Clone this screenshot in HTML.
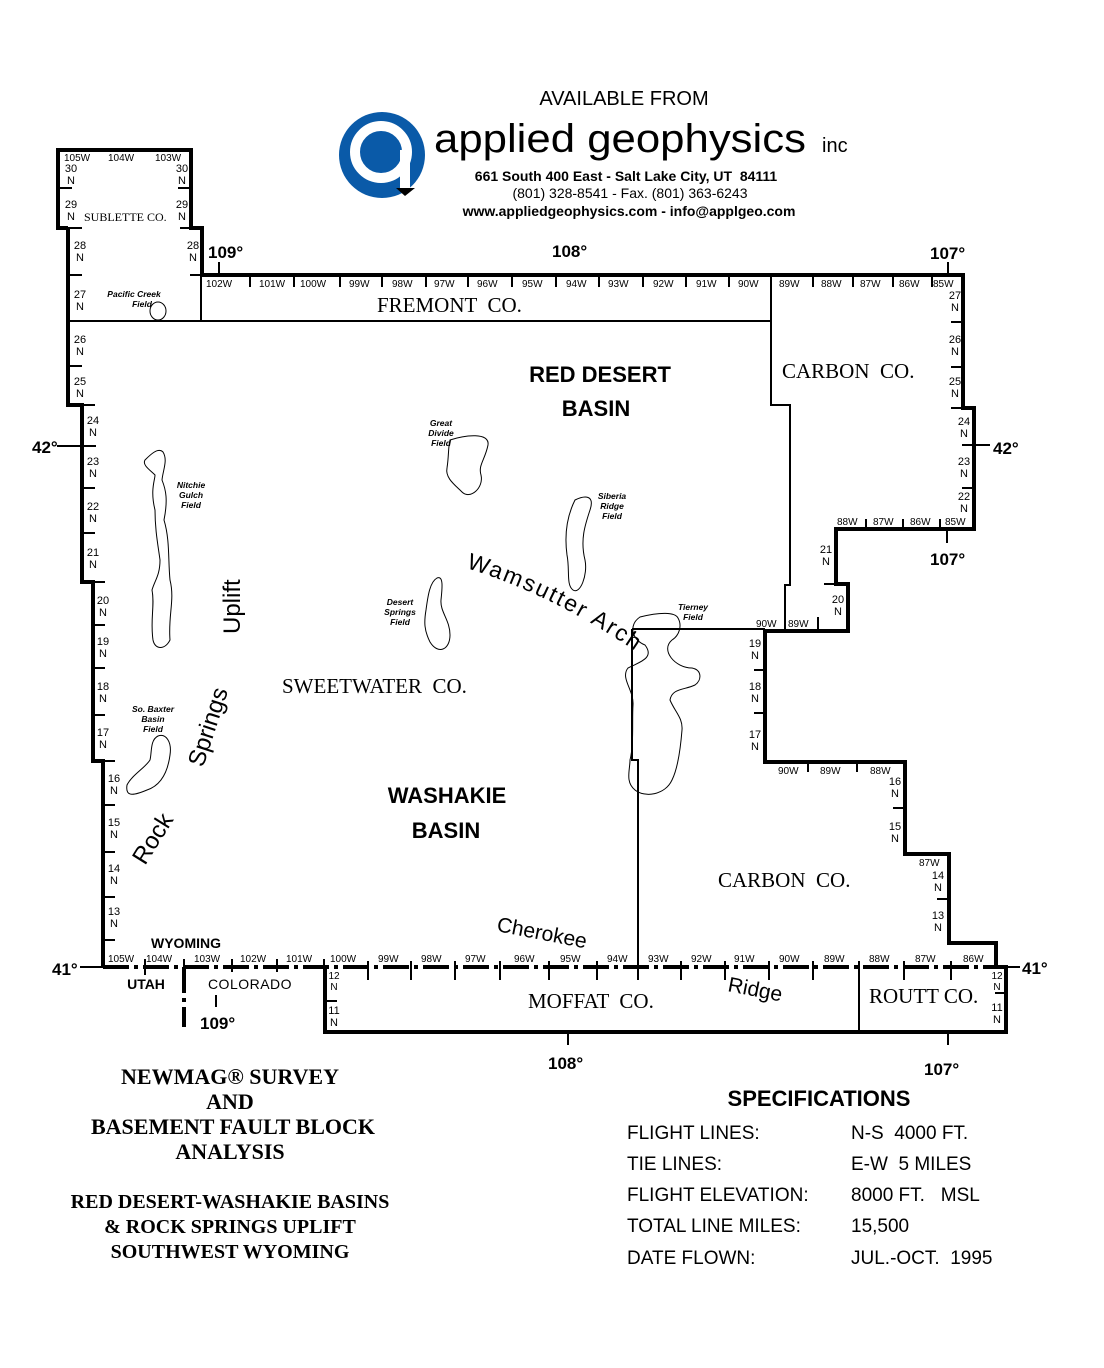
<!DOCTYPE html>
<html><head><meta charset="utf-8"><style>
html,body{margin:0;padding:0;background:#fff;}
svg{display:block;}
text{white-space:pre;}
.t{font-family:"Liberation Sans",sans-serif;font-size:10px;fill:#000;}
.n{font-family:"Liberation Sans",sans-serif;font-size:11px;fill:#000;text-anchor:middle;}
.s{font-family:"Liberation Serif",serif;font-size:21px;fill:#000;}
.b{font-family:"Liberation Sans",sans-serif;font-weight:bold;fill:#000;}
.f{font-family:"Liberation Sans",sans-serif;font-style:italic;font-weight:bold;font-size:8.5px;text-anchor:middle;fill:#000;}
.sp{font-family:"Liberation Sans",sans-serif;font-size:19px;fill:#000;}
.tt{font-family:"Liberation Serif",serif;font-weight:bold;fill:#000;text-anchor:middle;}
</style></head><body>
<svg width="1104" height="1368" viewBox="0 0 1104 1368" xmlns="http://www.w3.org/2000/svg">
<text x="624" y="105" class="sp" style="font-size:20px" text-anchor="middle">AVAILABLE FROM</text>
<circle cx="382" cy="155" r="43" fill="#0a5aa8"/>
<circle cx="381" cy="152" r="26" fill="none" stroke="#fff" stroke-width="10"/>
<rect x="400" y="150" width="10" height="40" fill="#fff"/>
<polygon points="396,188 415,188 405,196" fill="#000"/>
<text x="434" y="152" textLength="372" lengthAdjust="spacingAndGlyphs" style="font-family:'Liberation Sans',sans-serif;font-size:40px" fill="#000">applied geophysics</text>
<text x="822" y="152" style="font-family:'Liberation Sans',sans-serif;font-size:20px" fill="#000">inc</text>
<text x="626" y="181" class="b" style="font-size:14px" text-anchor="middle">661 South 400 East - Salt Lake City, UT  84111</text>
<text x="630" y="198" class="sp" style="font-size:14px" text-anchor="middle">(801) 328-8541 - Fax. (801) 363-6243</text>
<text x="629" y="216" class="b" style="font-size:14px" text-anchor="middle">www.appliedgeophysics.com - info@applgeo.com</text>

<polyline fill="none" stroke="#000" stroke-width="4" points="68,228 58,228 58,150 191,150 191,228 202,228 202,275 963,275 963,408 974,408 974,529 836,529 836,584 848,584 848,631 765,631 765,762 905,762 905,854 949,854 949,943 996,943 996,966"/>
<polyline fill="none" stroke="#000" stroke-width="4" points="68,228 68,405 82,405 82,582 93,582 93,761 103,761 103,968"/>
<polyline fill="none" stroke="#000" stroke-width="4" points="1006,966 1006,1032 325,1032 325,966"/>
<line x1="103" y1="967" x2="1008" y2="967" stroke="#000" stroke-width="4" stroke-dasharray="26,5,4,5"/>
<line x1="184" y1="967" x2="184" y2="1027" stroke="#000" stroke-width="4" stroke-dasharray="26,5,4,5"/>

<g stroke="#000" stroke-width="2" fill="none">
<line x1="68" y1="321" x2="771" y2="321"/>
<line x1="201" y1="275" x2="201" y2="321"/>
<polyline points="771,275 771,405 790,405 790,585 785,585 785,631"/>
<line x1="632" y1="629" x2="765" y2="629"/>
<polyline points="632,629 632,760 638,760 638,967"/>
<line x1="859" y1="967" x2="859" y2="1032"/>
</g>

<g stroke="#000" stroke-width="2">
<line x1="58" y1="188" x2="72" y2="188"/><line x1="178" y1="188" x2="191" y2="188"/>
<line x1="68" y1="228" x2="82" y2="228"/><line x1="180" y1="228" x2="191" y2="228"/>
<line x1="68" y1="275" x2="82" y2="275"/><line x1="190" y1="275" x2="201" y2="275"/>
<line x1="68" y1="366" x2="82" y2="366"/>
<line x1="82" y1="405" x2="95" y2="405"/>
<line x1="57" y1="446" x2="96" y2="446"/>
<line x1="82" y1="488" x2="95" y2="488"/><line x1="82" y1="533" x2="95" y2="533"/>
<line x1="93" y1="582" x2="105" y2="582"/>
<line x1="93" y1="625" x2="105" y2="625"/><line x1="93" y1="668" x2="105" y2="668"/><line x1="93" y1="715" x2="105" y2="715"/>
<line x1="103" y1="761" x2="115" y2="761"/>
<line x1="103" y1="805" x2="115" y2="805"/><line x1="103" y1="852" x2="115" y2="852"/><line x1="103" y1="897" x2="115" y2="897"/><line x1="103" y1="940" x2="115" y2="940"/>
<line x1="80" y1="967" x2="103" y2="967"/>
<line x1="219" y1="262" x2="219" y2="275"/>
<line x1="250" y1="275" x2="250" y2="287"/><line x1="294" y1="275" x2="294" y2="287"/><line x1="340" y1="275" x2="340" y2="287"/><line x1="382" y1="275" x2="382" y2="287"/><line x1="426" y1="275" x2="426" y2="287"/><line x1="468" y1="275" x2="468" y2="287"/><line x1="512" y1="275" x2="512" y2="287"/><line x1="556" y1="275" x2="556" y2="287"/><line x1="599" y1="275" x2="599" y2="287"/><line x1="643" y1="275" x2="643" y2="287"/><line x1="686" y1="275" x2="686" y2="287"/><line x1="729" y1="275" x2="729" y2="287"/>
<line x1="813" y1="275" x2="813" y2="287"/><line x1="853" y1="275" x2="853" y2="287"/><line x1="893" y1="275" x2="893" y2="287"/><line x1="932" y1="275" x2="932" y2="287"/>
<line x1="948" y1="262" x2="948" y2="275"/>
<line x1="951" y1="322" x2="963" y2="322"/><line x1="951" y1="367" x2="963" y2="367"/><line x1="951" y1="408" x2="963" y2="408"/>
<line x1="962" y1="445" x2="990" y2="445"/><line x1="962" y1="488" x2="974" y2="488"/>
<line x1="866" y1="519" x2="866" y2="529"/><line x1="903" y1="519" x2="903" y2="529"/><line x1="940" y1="519" x2="940" y2="529"/>
<line x1="947" y1="529" x2="947" y2="543"/>
<line x1="824" y1="584" x2="836" y2="584"/>
<line x1="818" y1="617" x2="818" y2="631"/><line x1="785" y1="617" x2="785" y2="631"/>
<line x1="754" y1="670" x2="765" y2="670"/><line x1="754" y1="713" x2="765" y2="713"/>
<line x1="808" y1="762" x2="808" y2="772"/><line x1="857" y1="762" x2="857" y2="772"/>
<line x1="893" y1="808" x2="905" y2="808"/>
<line x1="937" y1="899" x2="949" y2="899"/>
<line x1="995" y1="993" x2="1006" y2="993"/>
<line x1="1006" y1="967" x2="1020" y2="967"/>
<line x1="325" y1="1001" x2="337" y2="1001"/>
<line x1="145" y1="959" x2="145" y2="975"/><line x1="184" y1="959" x2="184" y2="975"/><line x1="232" y1="959" x2="232" y2="972"/><line x1="277" y1="959" x2="277" y2="972"/><line x1="324" y1="959" x2="324" y2="975"/>
<line x1="368" y1="961" x2="368" y2="980"/><line x1="411" y1="961" x2="411" y2="980"/><line x1="455" y1="961" x2="455" y2="980"/><line x1="500" y1="961" x2="500" y2="980"/><line x1="549" y1="961" x2="549" y2="980"/><line x1="597" y1="961" x2="597" y2="980"/><line x1="638" y1="961" x2="638" y2="980"/><line x1="681" y1="961" x2="681" y2="980"/><line x1="725" y1="961" x2="725" y2="980"/><line x1="769" y1="961" x2="769" y2="980"/><line x1="813" y1="961" x2="813" y2="980"/><line x1="859" y1="961" x2="859" y2="980"/><line x1="904" y1="961" x2="904" y2="980"/><line x1="951" y1="961" x2="951" y2="980"/>
<line x1="216" y1="995" x2="216" y2="1007"/>
<line x1="568" y1="1033" x2="568" y2="1045"/><line x1="948" y1="1033" x2="948" y2="1045"/>
</g>

<g class="b" style="font-size:17px">
<text x="208" y="258">109°</text><text x="552" y="257">108°</text><text x="930" y="259">107°</text>
<text x="32" y="453">42°</text><text x="993" y="454">42°</text>
<text x="930" y="565">107°</text>
<text x="52" y="975">41°</text><text x="1022" y="974">41°</text>
<text x="200" y="1029">109°</text><text x="548" y="1069">108°</text><text x="924" y="1075">107°</text>
</g>

<g class="t">
<text x="64" y="161">105W</text><text x="108" y="161">104W</text><text x="155" y="161">103W</text>
<text x="206" y="287">102W</text><text x="259" y="287">101W</text><text x="300" y="287">100W</text><text x="349" y="287">99W</text><text x="392" y="287">98W</text><text x="434" y="287">97W</text><text x="477" y="287">96W</text><text x="522" y="287">95W</text><text x="566" y="287">94W</text><text x="608" y="287">93W</text><text x="653" y="287">92W</text><text x="696" y="287">91W</text><text x="738" y="287">90W</text>
<text x="779" y="287">89W</text><text x="821" y="287">88W</text><text x="860" y="287">87W</text><text x="899" y="287">86W</text><text x="933" y="287">85W</text>
<text x="837" y="525">88W</text><text x="873" y="525">87W</text><text x="910" y="525">86W</text><text x="945" y="525">85W</text>
<text x="756" y="627">90W</text><text x="788" y="627">89W</text>
<text x="778" y="774">90W</text><text x="820" y="774">89W</text><text x="870" y="774">88W</text>
<text x="919" y="866">87W</text>
<text x="108" y="962">105W</text><text x="146" y="962">104W</text><text x="194" y="962">103W</text><text x="240" y="962">102W</text><text x="286" y="962">101W</text>
<text x="330" y="962">100W</text><text x="378" y="962">99W</text><text x="421" y="962">98W</text><text x="465" y="962">97W</text><text x="514" y="962">96W</text><text x="560" y="962">95W</text><text x="607" y="962">94W</text><text x="648" y="962">93W</text><text x="691" y="962">92W</text><text x="734" y="962">91W</text><text x="779" y="962">90W</text><text x="824" y="962">89W</text><text x="869" y="962">88W</text><text x="915" y="962">87W</text><text x="963" y="962">86W</text>
</g>

<g class="n">
<text x="71" y="172">30</text><text x="71" y="184">N</text><text x="182" y="172">30</text><text x="182" y="184">N</text>
<text x="71" y="208">29</text><text x="71" y="220">N</text><text x="182" y="208">29</text><text x="182" y="220">N</text>
<text x="80" y="249">28</text><text x="80" y="261">N</text><text x="193" y="249">28</text><text x="193" y="261">N</text>
<text x="80" y="298">27</text><text x="80" y="310">N</text>
<text x="80" y="343">26</text><text x="80" y="355">N</text>
<text x="80" y="385">25</text><text x="80" y="397">N</text>
<text x="93" y="424">24</text><text x="93" y="436">N</text>
<text x="93" y="465">23</text><text x="93" y="477">N</text>
<text x="93" y="510">22</text><text x="93" y="522">N</text>
<text x="93" y="556">21</text><text x="93" y="568">N</text>
<text x="103" y="604">20</text><text x="103" y="616">N</text>
<text x="103" y="645">19</text><text x="103" y="657">N</text>
<text x="103" y="690">18</text><text x="103" y="702">N</text>
<text x="103" y="736">17</text><text x="103" y="748">N</text>
<text x="114" y="782">16</text><text x="114" y="794">N</text>
<text x="114" y="826">15</text><text x="114" y="838">N</text>
<text x="114" y="872">14</text><text x="114" y="884">N</text>
<text x="114" y="915">13</text><text x="114" y="927">N</text>
<text x="955" y="299">27</text><text x="955" y="311">N</text>
<text x="955" y="343">26</text><text x="955" y="355">N</text>
<text x="955" y="385">25</text><text x="955" y="397">N</text>
<text x="964" y="425">24</text><text x="964" y="437">N</text>
<text x="964" y="465">23</text><text x="964" y="477">N</text>
<text x="964" y="500">22</text><text x="964" y="512">N</text>
<text x="826" y="553">21</text><text x="826" y="565">N</text>
<text x="838" y="603">20</text><text x="838" y="615">N</text>
<text x="755" y="647">19</text><text x="755" y="659">N</text>
<text x="755" y="690">18</text><text x="755" y="702">N</text>
<text x="755" y="738">17</text><text x="755" y="750">N</text>
<text x="895" y="785">16</text><text x="895" y="797">N</text>
<text x="895" y="830">15</text><text x="895" y="842">N</text>
<text x="938" y="879">14</text><text x="938" y="891">N</text>
<text x="938" y="919">13</text><text x="938" y="931">N</text>
<text x="997" y="979" style="font-size:10px">12</text><text x="997" y="990" style="font-size:10px">N</text>
<text x="997" y="1011">11</text><text x="997" y="1023">N</text>
<text x="334" y="979" style="font-size:10px">12</text><text x="334" y="990" style="font-size:10px">N</text>
<text x="334" y="1014">11</text><text x="334" y="1026">N</text>
</g>

<text x="84" y="221" style="font-family:'Liberation Serif',serif;font-size:12px">SUBLETTE CO.</text>
<text x="377" y="312" class="s">FREMONT  CO.</text>
<text x="782" y="378" class="s">CARBON  CO.</text>
<text x="282" y="693" class="s">SWEETWATER  CO.</text>
<text x="718" y="887" class="s">CARBON  CO.</text>
<text x="528" y="1008" class="s">MOFFAT  CO.</text>
<text x="869" y="1003" class="s">ROUTT CO.</text>
<text x="186" y="948" class="b" style="font-size:14px" text-anchor="middle">WYOMING</text>
<text x="146" y="989" class="b" style="font-size:14px" text-anchor="middle">UTAH</text>
<text x="250" y="989" style="font-family:'Liberation Sans',sans-serif;font-size:14px;letter-spacing:0.5px" text-anchor="middle">COLORADO</text>

<text x="600" y="382" class="b" style="font-size:22px" text-anchor="middle">RED DESERT</text>
<text x="596" y="416" class="b" style="font-size:22px" text-anchor="middle">BASIN</text>
<text x="447" y="803" class="b" style="font-size:22px" text-anchor="middle">WASHAKIE</text>
<text x="446" y="838" class="b" style="font-size:22px" text-anchor="middle">BASIN</text>

<defs><path id="wa" d="M466,568 Q565,598 665,672"/></defs>
<text style="font-family:'Liberation Sans',sans-serif;font-size:23px;letter-spacing:2px"><textPath href="#wa">Wamsutter Arch</textPath></text>
<text transform="translate(496,931) rotate(11)" style="font-family:'Liberation Sans',sans-serif;font-size:21px">Cherokee</text>
<text transform="translate(727,991) rotate(11)" style="font-family:'Liberation Sans',sans-serif;font-size:21px">Ridge</text>
<text transform="translate(145,866) rotate(-58)" style="font-family:'Liberation Sans',sans-serif;font-size:24px">Rock</text>
<text transform="translate(203,768) rotate(-72)" style="font-family:'Liberation Sans',sans-serif;font-size:24px">Springs</text>
<text transform="translate(240,634) rotate(-90)" style="font-family:'Liberation Sans',sans-serif;font-size:24px">Uplift</text>

<g fill="none" stroke="#000" stroke-width="1">
<ellipse cx="158" cy="311" rx="8" ry="9"/>
<path d="M450,440 C465,435 490,432 488,445 C485,460 478,465 481,475 C484,488 470,500 462,492 C455,485 445,478 447,468 C449,455 448,448 450,440Z"/>
<path d="M575,500 C585,495 595,495 590,510 C585,525 580,540 585,560 C588,575 580,595 573,590 C566,585 570,570 567,555 C565,540 565,520 575,500Z"/>
<path d="M437,578 C444,575 442,590 441,600 C440,612 450,620 450,635 C450,650 438,655 430,642 C424,630 424,622 426,610 C428,595 430,582 437,578Z"/>
<path d="M145,460 C150,455 158,447 163,452 C168,460 163,470 162,480 C166,490 168,500 164,520 C170,540 168,560 170,580 C175,600 168,615 170,640 C165,650 155,650 153,640 C150,620 155,605 152,590 C155,580 160,575 160,560 C158,545 155,530 155,510 C150,490 155,480 155,475 C150,470 142,465 145,460Z"/>
<path d="M158,736 C166,733 172,742 170,755 C168,770 162,785 147,790 C135,795 125,798 127,785 C132,775 145,768 150,760 C152,752 150,740 158,736Z"/>
<path d="M640,617 C660,612 675,612 678,618 C682,625 680,635 672,640 C660,650 675,668 692,668 C702,670 702,680 695,685 C685,690 672,688 670,700 C675,712 683,718 682,730 C680,755 677,770 672,780 C665,795 645,798 635,790 C625,782 630,770 630,760 C634,745 632,720 633,705 C634,690 620,678 628,668 C640,662 655,658 645,645 C632,640 628,625 640,617Z"/>
</g>
<g class="f">
<text x="134" y="297">Pacific Creek</text><text x="142" y="307">Field</text>
<text x="441" y="426">Great</text><text x="441" y="436">Divide</text><text x="441" y="446">Field</text>
<text x="612" y="499">Siberia</text><text x="612" y="509">Ridge</text><text x="612" y="519">Field</text>
<text x="400" y="605">Desert</text><text x="400" y="615">Springs</text><text x="400" y="625">Field</text>
<text x="191" y="488">Nitchie</text><text x="191" y="498">Gulch</text><text x="191" y="508">Field</text>
<text x="153" y="712">So. Baxter</text><text x="153" y="722">Basin</text><text x="153" y="732">Field</text>
<text x="693" y="610">Tierney</text><text x="693" y="620">Field</text>
</g>

<text x="230" y="1084" class="tt" style="font-size:22px">NEWMAG® SURVEY</text>
<text x="230" y="1109" class="tt" style="font-size:22px">AND</text>
<text x="233" y="1134" class="tt" style="font-size:22px">BASEMENT FAULT BLOCK</text>
<text x="230" y="1159" class="tt" style="font-size:22px">ANALYSIS</text>
<text x="230" y="1208" class="tt" style="font-size:20px">RED DESERT-WASHAKIE BASINS</text>
<text x="230" y="1233" class="tt" style="font-size:20px">&amp; ROCK SPRINGS UPLIFT</text>
<text x="230" y="1258" class="tt" style="font-size:20px">SOUTHWEST WYOMING</text>

<text x="819" y="1106" class="b" style="font-size:22px" text-anchor="middle">SPECIFICATIONS</text>
<g class="sp">
<text x="627" y="1139">FLIGHT LINES:</text><text x="851" y="1139">N-S  4000 FT.</text>
<text x="627" y="1170">TIE LINES:</text><text x="851" y="1170">E-W  5 MILES</text>
<text x="627" y="1201">FLIGHT ELEVATION:</text><text x="851" y="1201">8000 FT.   MSL</text>
<text x="627" y="1232">TOTAL LINE MILES:</text><text x="851" y="1232">15,500</text>
<text x="627" y="1264">DATE FLOWN:</text><text x="851" y="1264">JUL.-OCT.  1995</text>
</g>
</svg>
</body></html>
